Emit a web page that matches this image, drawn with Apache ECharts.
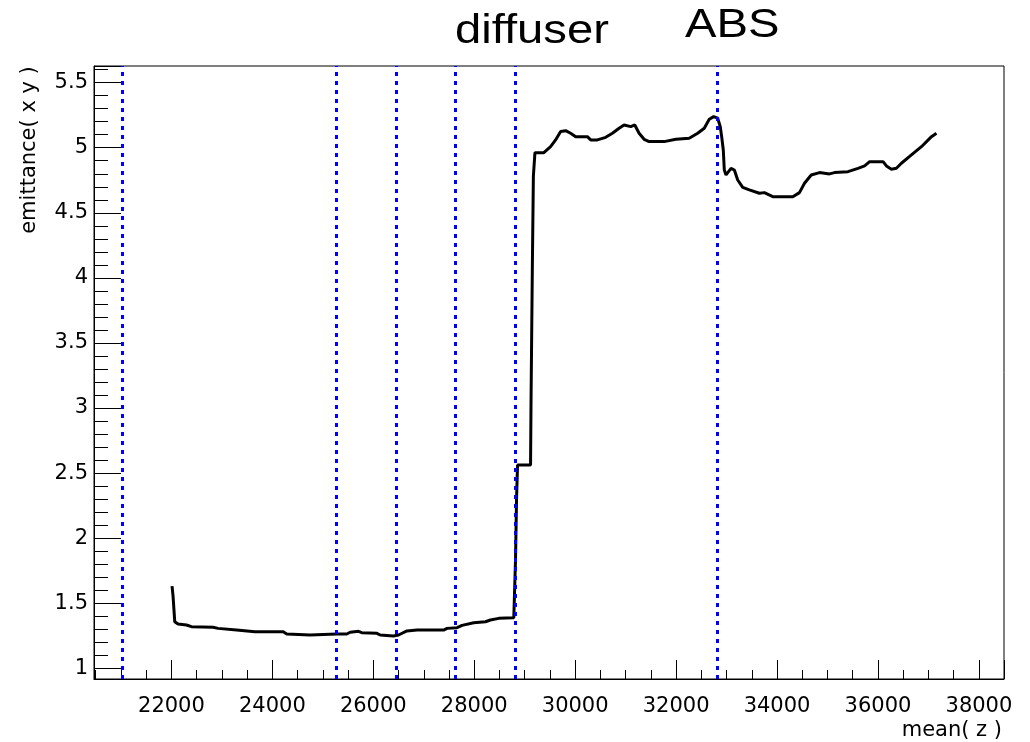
<!DOCTYPE html>
<html>
<head>
<meta charset="utf-8">
<script src="https://cdn.jsdelivr.net/npm/echarts@6/dist/echarts.min.js"></script>
<style>
  html, body { margin: 0; padding: 0; background: #fff; }
  #chart { width: 1030px; height: 742px; }
</style>
</head>
<body>
<div id="chart"></div>
<script>
// curve: mean(z) vs emittance(x y)
const zVals = [
  22012, 22032, 22066, 22131, 22298, 22397, 22826, 22925, 23291, 23654,
  24216, 24284, 24747, 25277, 25476, 25541, 25706, 25773, 26071, 26137,
  26401, 26500, 26667, 26866, 27394, 27462, 27660, 27759, 27990, 28222,
  28321, 28486, 28784, 28798, 28818, 28838, 28858, 29116, 29126, 29150,
  29152, 29170, 29172, 29201, 29203, 29380, 29513, 29612, 29712, 29811,
  29910, 30010, 30242, 30308, 30441, 30605, 30738, 30870, 30969, 31102,
  31181, 31267, 31366, 31465, 31763, 31996, 32260, 32427, 32558, 32657,
  32744, 32824, 32875, 32903, 32935, 32955, 32989, 33088, 33154, 33221,
  33320, 33451, 33650, 33749, 33916, 34313, 34444, 34544, 34677, 34841,
  35040, 35139, 35405, 35604, 35735, 35835, 36101, 36167, 36266, 36365,
  36464, 36663, 36861, 37060, 37159
]
const emitVals = [
  1.632, 1.556, 1.358, 1.340, 1.333, 1.320, 1.315, 1.307, 1.294, 1.281,
  1.281, 1.264, 1.256, 1.264, 1.264, 1.277, 1.284, 1.274, 1.269, 1.256,
  1.248, 1.256, 1.287, 1.294, 1.294, 1.307, 1.312, 1.330, 1.350, 1.358,
  1.371, 1.384, 1.389, 1.389, 1.832, 2.293, 2.562, 2.562, 3.077, 3.077,
  4.099, 4.099, 4.783, 4.783, 4.962, 4.962, 5.008, 5.060, 5.124, 5.131,
  5.111, 5.085, 5.085, 5.060, 5.060, 5.080, 5.111, 5.150, 5.175, 5.162,
  5.175, 5.111, 5.065, 5.047, 5.047, 5.065, 5.073, 5.111, 5.150, 5.219,
  5.239, 5.227, 5.162, 5.085, 4.983, 4.829, 4.791, 4.842, 4.829, 4.752,
  4.696, 4.676, 4.650, 4.655, 4.624, 4.624, 4.655, 4.727, 4.791, 4.809,
  4.799, 4.809, 4.816, 4.842, 4.860, 4.893, 4.893, 4.860, 4.835, 4.842,
  4.881, 4.945, 5.008, 5.085, 5.111
]

// positions of the blue dotted marker lines
const markerZ = [21030, 25270, 26450, 27630, 28805, 32822]

const xRange = [20466, 38497]
const yRange = [0.918, 5.628]

const chart = echarts.init(document.getElementById('chart'))

const labelFont = { fontFamily: 'DejaVu Sans', fontSize: 21, color: '#000' }

chart.setOption({
  backgroundColor: '#fff',
  animation: false,
  grid: {
    left: 94, right: 26, top: 66, bottom: 63,
    show: true,
    borderColor: '#000',
    borderWidth: 1,
    backgroundColor: '#fff',
    outerBoundsMode: 'none'
  },
  xAxis: {
    type: 'value',
    min: xRange[0],
    max: xRange[1],
    splitNumber: 9,
    axisLine: { show: true, onZero: false, lineStyle: { color: '#000', width: 1 } },
    axisTick: { show: true, inside: true, length: 19, lineStyle: { color: '#000', width: 1 } },
    minorTick: { show: true, splitNumber: 4, length: 9, lineStyle: { color: '#000', width: 1 } },
    splitLine: { show: false },
    axisLabel: {
      ...labelFont, margin: 17, showMinLabel: false, showMaxLabel: false,
      formatter: v => String(v)
    }
  },
  yAxis: {
    type: 'value',
    min: yRange[0],
    max: yRange[1],
    splitNumber: 9,
    axisLine: { show: true, onZero: false, lineStyle: { color: '#000', width: 1 } },
    axisTick: { show: true, inside: true, length: 27, lineStyle: { color: '#000', width: 1 } },
    minorTick: { show: true, splitNumber: 5, length: 14, lineStyle: { color: '#000', width: 1 } },
    splitLine: { show: false },
    axisLabel: { ...labelFont, margin: 6, showMinLabel: false, showMaxLabel: false }
  },
  series: [{
    type: 'line',
    data: zVals.map((z, i) => [z, emitVals[i]]),
    showSymbol: false,
    lineStyle: { color: '#000', width: 3 },
    silent: true,
    markLine: {
      silent: true,
      symbol: ['none', 'none'],
      label: { show: false },
      lineStyle: { color: '#0000ff', width: 3, type: [4, 5] },
      data: markerZ.map(z => ({ xAxis: z }))
    }
  }],
  graphic: [
    {
      type: 'text',
      x: 30, y: 150,
      rotation: Math.PI / 2,
      style: { text: 'emittance( x y )', font: '21px "DejaVu Sans"', fill: '#000', align: 'center', verticalAlign: 'middle' }
    },
    {
      type: 'text',
      x: 1002, y: 731,
      style: { text: 'mean( z )', font: '21px "DejaVu Sans"', fill: '#000', align: 'right', verticalAlign: 'middle' }
    },
    {
      type: 'text',
      x: 455, y: 32,
      scaleX: 1.18,
      style: { text: 'diffuser', font: '40px "Liberation Sans"', fill: '#000', align: 'left', verticalAlign: 'middle' }
    },
    {
      type: 'text',
      x: 685, y: 26,
      scaleX: 1.18,
      style: { text: 'ABS', font: '40px "Liberation Sans"', fill: '#000', align: 'left', verticalAlign: 'middle' }
    }
  ]
})
</script>
</body>
</html>
